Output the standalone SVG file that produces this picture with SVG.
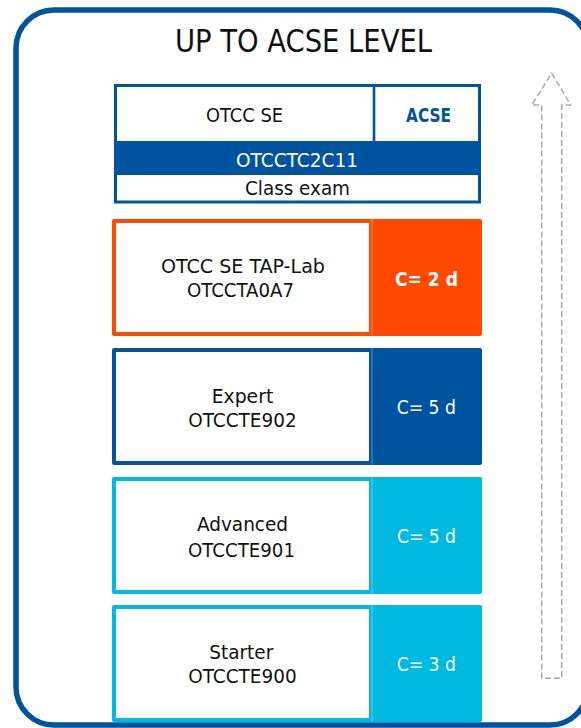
<svg xmlns="http://www.w3.org/2000/svg" width="581" height="728" viewBox="0 0 581 728">
<style>
text{font-family:"DejaVu Sans Condensed","DejaVu Sans",sans-serif;text-anchor:middle;fill:#111;font-size:20px}
.w{fill:#fff}
.b{font-weight:bold}
.t{font-size:32px}
.ac{font-size:19px;fill:#00539F}
.inner{fill:#fff}
.sep{stroke:#fff;stroke-opacity:.35;stroke-width:1}
</style>
<rect x="0" y="0" width="581" height="728" fill="#fff"/>
<g id="frame">
<rect x="16" y="10" width="572" height="715" rx="38" ry="38" fill="#fff" stroke="#00539F" stroke-width="5.5"/>
<text x="303.5" y="51.7" class="t" textLength="257" lengthAdjust="spacingAndGlyphs">UP TO ACSE LEVEL</text>
</g>
<g id="connectors">
<path d="M551.7,73.3 L570.7,105 L561.7,105 L561.7,678.3 L541.7,678.3 L541.7,105 L531.7,105 Z" fill="none" stroke="#A8A8A8" stroke-width="1.5" stroke-dasharray="6 3"/>
</g>
<g id="acse-header">
<rect x="115.5" y="141" width="364" height="34" fill="#00539F"/>
<rect x="115.5" y="85.5" width="364" height="116.5" fill="none" stroke="#00539F" stroke-width="3"/>
<line x1="374" y1="85" x2="374" y2="141" stroke="#00539F" stroke-width="2.6"/>
<text x="244.5" y="121.7" textLength="77" lengthAdjust="spacingAndGlyphs">OTCC SE</text>
<text x="428.5" y="121.5" class="b ac" textLength="45" lengthAdjust="spacingAndGlyphs">ACSE</text>
<text x="297" y="167.3" class="w" textLength="122" lengthAdjust="spacingAndGlyphs">OTCCTC2C11</text>
<text x="297.5" y="195" textLength="105" lengthAdjust="spacingAndGlyphs">Class exam</text>
</g>
<g id="tap-lab">
<rect x="112" y="219" width="370" height="117" rx="2" fill="#FF4800"/>
<rect x="116" y="223" width="253" height="109" class="inner"/>
<line x1="372" y1="219" x2="372" y2="336" class="sep"/>
<text x="243" y="273.3" textLength="164" lengthAdjust="spacingAndGlyphs">OTCC SE TAP-Lab</text>
<text x="240.5" y="297.3" textLength="107" lengthAdjust="spacingAndGlyphs">OTCCTA0A7</text>
<text x="426.5" y="286" class="w b" textLength="63" lengthAdjust="spacingAndGlyphs">C= 2 d</text>
</g>
<g id="expert">
<rect x="112" y="348" width="370" height="117" rx="2" fill="#00539F"/>
<rect x="116" y="352" width="253" height="109" class="inner"/>
<line x1="372" y1="348" x2="372" y2="465" class="sep"/>
<text x="242.5" y="402.7" textLength="61.6" lengthAdjust="spacingAndGlyphs">Expert</text>
<text x="242.5" y="427.3" textLength="108.4" lengthAdjust="spacingAndGlyphs">OTCCTE902</text>
<text x="426.3" y="414" class="w" textLength="59.3" lengthAdjust="spacingAndGlyphs">C= 5 d</text>
</g>
<g id="advanced">
<rect x="112" y="477" width="370" height="117" rx="2" fill="#00B9E0"/>
<rect x="116" y="481" width="253" height="109" class="inner"/>
<line x1="372" y1="477" x2="372" y2="594" class="sep"/>
<text x="242.5" y="531" textLength="91" lengthAdjust="spacingAndGlyphs">Advanced</text>
<text x="241.5" y="556.7" textLength="107" lengthAdjust="spacingAndGlyphs">OTCCTE901</text>
<text x="426.5" y="543.3" class="w" textLength="59" lengthAdjust="spacingAndGlyphs">C= 5 d</text>
</g>
<g id="starter">
<rect x="112" y="605" width="370" height="117" rx="2" fill="#00B9E0"/>
<rect x="116" y="609" width="253" height="109" class="inner"/>
<line x1="372" y1="605" x2="372" y2="722" class="sep"/>
<text x="241.3" y="659" textLength="64" lengthAdjust="spacingAndGlyphs">Starter</text>
<text x="242.5" y="683" textLength="108.4" lengthAdjust="spacingAndGlyphs">OTCCTE900</text>
<text x="426.3" y="671.3" class="w" textLength="59.3" lengthAdjust="spacingAndGlyphs">C= 3 d</text>
</g>
</svg>
